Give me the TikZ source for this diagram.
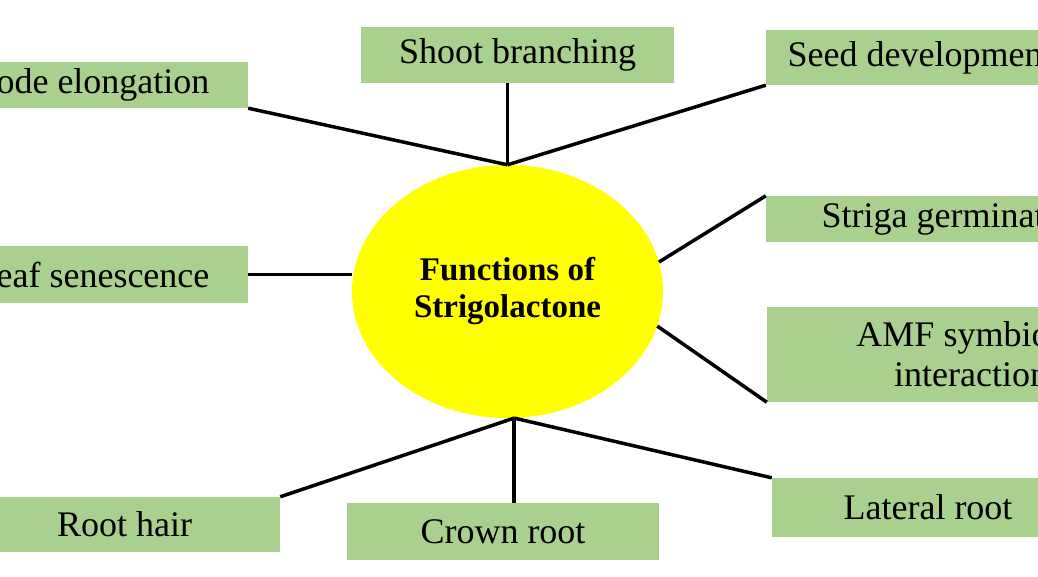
\documentclass[tikz,border=0pt]{standalone}
\usepackage{fontspec}
\setmainfont{Liberation Serif}
\usetikzlibrary{shapes.geometric}
\definecolor{leafgreen}{HTML}{A9D08E}
\definecolor{hubyellow}{HTML}{FFFF00}

\begin{document}
\begin{tikzpicture}[x=1pt,y=-1pt,
  func/.style={fill=leafgreen,inner sep=0pt,align=center,font=\fontsize{36}{40}\selectfont},
  hubnode/.style={ellipse,fill=hubyellow,inner sep=0pt,align=center,font=\fontsize{33}{37}\selectfont\bfseries},
  link/.style={line width=3.5pt}]
\useasboundingbox (0,0) rectangle (1038,576);
\clip (0,0) rectangle (1038,576);

\node[hubnode,minimum width=311pt,minimum height=253pt] (hub) at (507.5,291.5) {Functions of\\Strigolactone};

\node[func,minimum width=376pt,minimum height=46pt] (internode) at (60,85) {Internode elongation};
\node[func,minimum width=313pt,minimum height=56pt] (shoot) at (517.5,55) {Shoot branching};
\node[func,minimum width=308pt,minimum height=55pt] (seed) at (920,57.5) {Seed development};
\node[func,minimum width=312pt,minimum height=57pt] (leaf) at (92,274.5) {Leaf senescence};
\node[func,minimum width=380pt,minimum height=46pt] (striga) at (956,219) {Striga germination};
\node[func,minimum width=408pt,minimum height=95pt] (amf) at (971,354.5) {AMF symbiotic\\interaction};
\node[func,minimum width=311pt,minimum height=55pt] (roothair) at (124.5,524.5) {Root hair};
\node[func,minimum width=312pt,minimum height=57pt] (crown) at (503,531.5) {Crown root};
\node[func,minimum width=312pt,minimum height=59pt] (lateral) at (928,507.5) {Lateral root};

\path[link]
(hub.north) edge (internode.south east)
            edge (shoot.south -| hub.north)
            edge (seed.south west)
(hub.-87.5) edge (roothair.north east)
            edge (crown.north -| hub.-87.5)
            edge (lateral.north west)
(hub.11)    edge (striga.north west)
(hub.-13)   edge (amf.south west)
(leaf.east) edge (leaf.east -| hub.west);
\end{tikzpicture}
\end{document}
